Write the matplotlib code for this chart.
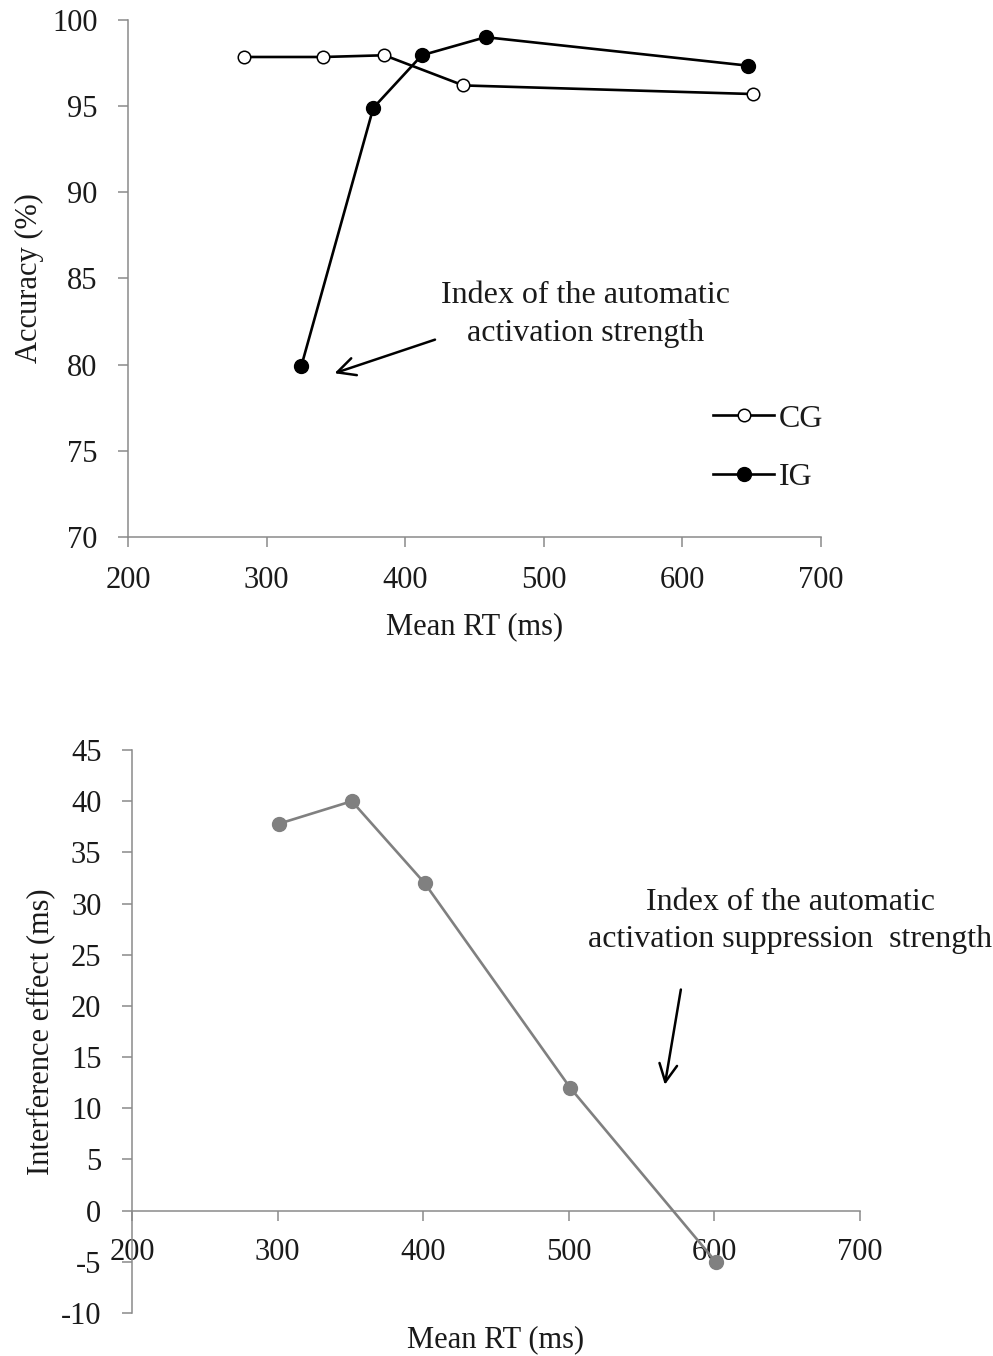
import matplotlib
matplotlib.use("Agg")
import matplotlib.pyplot as plt

plt.rcParams['font.family'] = ['Liberation Serif', 'DejaVu Serif']
plt.rcParams['axes.unicode_minus'] = False

# Accuracy vs mean RT for the two groups
cg_rt = [284, 341, 385, 442, 651]
cg_acc = [97.85, 97.85, 97.95, 96.2, 95.7]
ig_rt = [325, 377, 412, 458, 647]
ig_acc = [79.9, 94.9, 97.95, 99.0, 97.35]

# Interference effect vs mean RT
int_rt = [301, 351, 401, 501, 601]
int_eff = [37.8, 40.0, 32.0, 12.0, -5.0]

top_xticks = [200, 300, 400, 500, 600, 700]
top_yticks = [70, 75, 80, 85, 90, 95, 100]
bot_xticks = [200, 300, 400, 500, 600, 700]
bot_yticks = [-10, -5, 0, 5, 10, 15, 20, 25, 30, 35, 40, 45]

FS = 22
NOTE_FS = 23
TXT = '#1a1a1a'
SPINE = '#8a8a8a'

fig = plt.figure(figsize=(9.93, 13.56), dpi=100)

# ---------- upper panel ----------
ax1 = fig.add_axes([0.1289, 0.604, 0.6979, 0.3813])
ax1.plot(cg_rt, cg_acc, color='black', lw=1.9, marker='o', ms=9,
         mfc='white', mec='black', mew=1.1, label='CG', zorder=3)
ax1.plot(ig_rt, ig_acc, color='black', lw=1.9, marker='o', ms=10,
         mfc='black', mec='black', label='IG', zorder=3)
ax1.set_xlim(200, 700)
ax1.set_ylim(70, 100)
ax1.set_xticks(top_xticks)
ax1.set_yticks(top_yticks)
for s in ['top', 'right']:
    ax1.spines[s].set_visible(False)
for s in ['left', 'bottom']:
    ax1.spines[s].set_color(SPINE)
    ax1.spines[s].set_linewidth(1.1)
ax1.tick_params(direction='out', length=7, width=1.1, color=SPINE,
                labelsize=FS, labelcolor=TXT)
ax1.tick_params(axis='x', pad=14)
ax1.tick_params(axis='y', pad=15)
ax1.set_xlabel('Mean RT (ms)', fontsize=FS, color=TXT, labelpad=12)
ax1.set_ylabel('Accuracy (%)', fontsize=FS, color=TXT, labelpad=6)

ax1.text(530, 82.9, 'Index of the automatic\nactivation strength',
         ha='center', va='center', fontsize=NOTE_FS, color=TXT,
         linespacing=1.4)
ax1.annotate('', xy=(349, 79.5), xytext=(421.5, 81.45),
             arrowprops=dict(arrowstyle='->', lw=1.8, color='black',
                             mutation_scale=32, shrinkA=0, shrinkB=0))

leg = ax1.legend(loc='center left', bbox_to_anchor=(0.8215, 0.172),
                 frameon=False, fontsize=23, handlelength=1.9,
                 handletextpad=0.15, labelspacing=0.9, borderpad=0)
for t in leg.get_texts():
    t.set_color(TXT)

# ---------- lower panel ----------
ax2 = fig.add_axes([0.1329, 0.0317, 0.7331, 0.4152])
ax2.plot(int_rt, int_eff, color='#808080', lw=1.9, marker='o', ms=10,
         mfc='#808080', mec='#808080', zorder=3, clip_on=False)
ax2.set_xlim(200, 700)
ax2.set_ylim(-10, 45)
ax2.set_xticks(bot_xticks)
ax2.set_yticks(bot_yticks)
for s in ['top', 'right']:
    ax2.spines[s].set_visible(False)
ax2.spines['bottom'].set_position(('data', 0))
for s in ['left', 'bottom']:
    ax2.spines[s].set_color(SPINE)
    ax2.spines[s].set_linewidth(1.1)
ax2.tick_params(direction='out', length=7, width=1.1, color=SPINE,
                labelsize=FS, labelcolor=TXT)
ax2.tick_params(axis='x', pad=13)
ax2.tick_params(axis='y', pad=15)
ax2.set_xlabel('Mean RT (ms)', fontsize=FS, color=TXT)
ax2.xaxis.set_label_coords(0.5, -0.022)
ax2.set_ylabel('Interference effect (ms)', fontsize=FS, color=TXT, labelpad=4)

ax2.text(652, 28.3, 'Index of the automatic\nactivation suppression  strength',
         ha='center', va='center', fontsize=NOTE_FS, color=TXT,
         linespacing=1.4, clip_on=False)
ax2.annotate('', xy=(566, 12.3), xytext=(577, 21.6),
             arrowprops=dict(arrowstyle='->', lw=1.8, color='black',
                             mutation_scale=32, shrinkA=0, shrinkB=0))

fig.savefig('out.png', dpi=100)
